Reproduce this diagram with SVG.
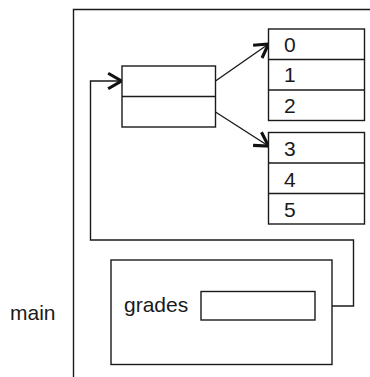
<svg xmlns="http://www.w3.org/2000/svg" width="370" height="377" viewBox="0 0 370 377">
<defs>
<style>
.box{fill:#fff;stroke:#1a1a1a;stroke-width:1.4}
.ln{fill:none;stroke:#1a1a1a;stroke-width:1.4}
.t{font-family:"Liberation Sans",Arial,sans-serif;font-size:21px;fill:#1a1a1a}
</style>
<marker id="ah" markerUnits="userSpaceOnUse" markerWidth="20" markerHeight="20" viewBox="-2 -2 18 18" refX="12" refY="7" orient="auto">
<path d="M0,0 L12,7 L0,14" fill="none" stroke="#111" stroke-width="2.8"/>
</marker>
</defs>
<rect width="370" height="377" fill="#fff"/>
<g id="frame">
<path class="ln" d="M73.5,377 V9.5 H370"/>
<text class="t" x="10" y="320">main</text>
</g>
<g id="connectors">
<path class="ln" d="M315,306 H353.5 V240 H90.5 V81 H121.5" marker-end="url(#ah)"/>
<path class="ln" d="M215.5,81 L268.5,44" marker-end="url(#ah)"/>
<path class="ln" d="M215.5,112 L268.5,146" marker-end="url(#ah)"/>
</g>
<g id="pointers">
<rect class="box" x="122" y="66" width="93.5" height="61"/>
<line class="ln" x1="122" y1="96.5" x2="215.5" y2="96.5"/>
</g>
<g id="array1">
<rect class="box" x="268.5" y="29" width="96" height="91.5"/>
<line class="ln" x1="268.5" y1="59.5" x2="364.5" y2="59.5"/>
<line class="ln" x1="268.5" y1="90" x2="364.5" y2="90"/>
<text class="t" x="284" y="51.5">0</text>
<text class="t" x="284" y="82">1</text>
<text class="t" x="284" y="112.5">2</text>
</g>
<g id="array2">
<rect class="box" x="268.5" y="132.5" width="96" height="91.5"/>
<line class="ln" x1="268.5" y1="163" x2="364.5" y2="163"/>
<line class="ln" x1="268.5" y1="193.5" x2="364.5" y2="193.5"/>
<text class="t" x="284" y="156">3</text>
<text class="t" x="284" y="186.5">4</text>
<text class="t" x="284" y="216.5">5</text>
</g>
<g id="grades">
<rect class="box" x="111" y="260" width="221" height="104.5"/>
<text class="t" x="124" y="312">grades</text>
<rect class="box" x="201" y="291.5" width="114" height="28.5"/>
</g>
</svg>
